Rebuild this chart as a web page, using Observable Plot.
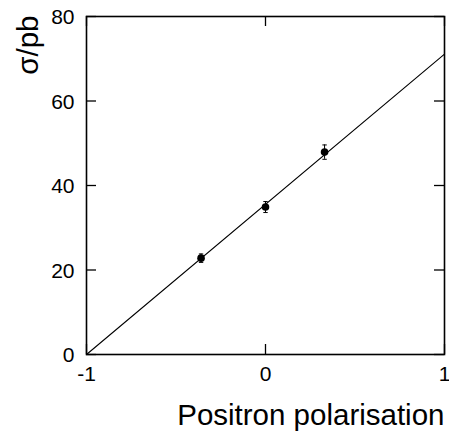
<!DOCTYPE html>
<html>
<head>
<meta charset="utf-8">
<script src="https://cdn.jsdelivr.net/npm/d3@7"></script>
<script src="https://cdn.jsdelivr.net/npm/@observablehq/plot@0.6"></script>
<style>
  html, body { margin: 0; padding: 0; background: #fff; }
</style>
</head>
<body>
<div id="chart"></div>
<script>
// Data
const polarisation = [-0.36, 0.0, 0.33];
const sigma = [22.8, 34.9, 47.9];
const sigmaErr = [1.0, 1.3, 1.7];
const fitX = [-1, 1];
const fitY = [0, 71.1];
const xTicks = [-1, 0, 1];
const yTicks = [0, 20, 40, 60, 80];
const xLabel = "Positron polarisation";
const yLabel = "σ/pb";

const points = polarisation.map((p, i) => ({x: p, y: sigma[i], lo: sigma[i] - sigmaErr[i], hi: sigma[i] + sigmaErr[i]}));
const caps = points.flatMap(d => [{x: d.x, y: d.lo}, {x: d.x, y: d.hi}]);
const fit = fitX.map((x, i) => ({x, y: fitY[i]}));

const W = 449, H = 434, mL = 86, mR = 5, mT = 16, mB = 80;
const pw = W - mL - mR, ph = H - mT - mB, tick = 10;

const capSymbol = {
  draw(context) { context.moveTo(-2.2, 0); context.lineTo(2.2, 0); }
};

const chart = Plot.plot({
  width: W,
  height: H,
  marginLeft: mL,
  marginRight: mR,
  marginTop: mT,
  marginBottom: mB,
  style: {fontFamily: "'Liberation Sans', Arial, sans-serif", background: "#fff", color: "#000", overflow: "visible"},
  x: {domain: [-1, 1], axis: null},
  y: {domain: [0, 80], axis: null},
  marks: [
    // tick labels
    Plot.text(yTicks, {y: d => d, text: d => String(d), frameAnchor: "left", textAnchor: "end", dx: -12, dy: 1, fontSize: 21, fill: "#000"}),
    Plot.text(xTicks, {x: d => d, text: d => String(d), frameAnchor: "bottom", lineAnchor: "top", dy: 12, fontSize: 21, fill: "#000"}),
    // inward ticks on all four sides
    Plot.tickY(yTicks, {y: d => d, insetRight: pw - tick, stroke: "#000", strokeWidth: 1.3}),
    Plot.tickY(yTicks, {y: d => d, insetLeft: pw - tick, stroke: "#000", strokeWidth: 1.3}),
    Plot.tickX(xTicks, {x: d => d, insetTop: ph - tick, stroke: "#000", strokeWidth: 1.3}),
    Plot.tickX(xTicks, {x: d => d, insetBottom: ph - tick, stroke: "#000", strokeWidth: 1.3}),
    Plot.line(fit, {x: "x", y: "y", stroke: "#000", strokeWidth: 1.1}),
    Plot.ruleX(points, {x: "x", y1: "lo", y2: "hi", stroke: "#000", strokeWidth: 1}),
    Plot.dot(caps, {x: "x", y: "y", symbol: capSymbol, stroke: "#000", strokeWidth: 1, r: 3}),
    Plot.dot(points, {x: "x", y: "y", r: 3.8, fill: "#000", stroke: null}),
    Plot.frame({stroke: "#000", strokeWidth: 1.6}),
    Plot.text([xLabel], {text: d => d, frameAnchor: "bottom-right", textAnchor: "end", lineAnchor: "bottom", dy: 70, fontSize: 29.5, fill: "#000"}),
    Plot.text([yLabel], {text: d => d, frameAnchor: "top-left", textAnchor: "end", rotate: -90, dx: -69, dy: -1, fontSize: 29.5, fill: "#000"})
  ]
});
document.getElementById("chart").appendChild(chart);
</script>
</body>
</html>
